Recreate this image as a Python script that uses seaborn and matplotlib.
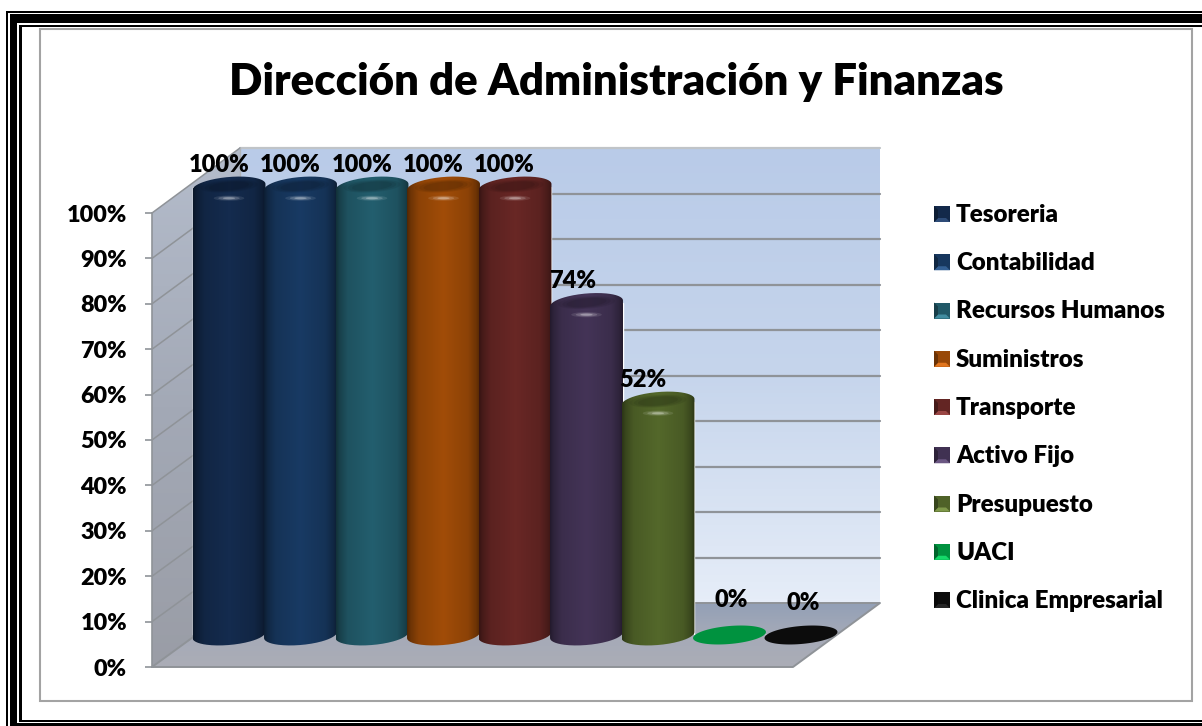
#!/usr/bin/env python3
"""Cylinder chart: Direccion de Administracion y Finanzas."""
import numpy as np
import pandas as pd
import matplotlib
matplotlib.use("Agg")
import matplotlib.pyplot as plt
from matplotlib.colors import to_rgb
from matplotlib.patches import Polygon, Rectangle
from matplotlib.path import Path
import seaborn as sns

sns.set_theme(style="white")
plt.rcParams["font.family"] = ["Lato", "DejaVu Sans"]
plt.rcParams["font.weight"] = "bold"

TITLE = "Dirección de Administración y Finanzas"
AREAS = ["Tesoreria", "Contabilidad", "Recursos Humanos", "Suministros", "Transporte",
         "Activo Fijo", "Presupuesto", "UACI", "Clinica Empresarial"]
VALUES = [100, 100, 100, 100, 100, 74, 52, 0, 0]
COLORS = ["#13294a", "#17375e", "#215968", "#984807", "#632523",
          "#403152", "#4f6228", "#00923f", "#0c0c0c"]
Y_TICKS = list(range(0, 101, 10))

W, H = 1202, 726
GRAY = "#8f9398"
WEIGHT = 800


def axes_px(fig, left, top, right, bottom, **kw):
    return fig.add_axes([left / W, 1 - bottom / H, (right - left) / W, (bottom - top) / H], **kw)


def gradient(ax, xy, stops, horizontal=False):
    """Fill a polygon given in pixels with a linear gradient."""
    xs, ys = zip(*xy)
    rgb = np.array([to_rgb(c) for c in stops])
    t = np.linspace(0, 1, 128)
    img = np.stack([np.interp(t, np.linspace(0, 1, len(stops)), rgb[:, i]) for i in range(3)], axis=-1)
    img = img[None, :, :] if horizontal else img[:, None, :]
    im = ax.imshow(img, extent=(min(xs), max(xs), max(ys), min(ys)), aspect="auto", zorder=1, origin="upper")
    im.set_clip_path(Polygon(xy, closed=True, transform=ax.transData))


def ellipse(cx, cy, a, b, shear=0.0, start=0.0, stop=2 * np.pi):
    t = np.linspace(start, stop, 80)
    return np.column_stack([cx + a * np.cos(t), cy + b * np.sin(t) + shear * np.cos(t)])


def draw_frame(bg):
    layers = [("black", 6, 11, 760), ("white", 7.5, 12.7, 760), ("black", 10, 14, 760),
              ("white", 17, 22.7, 723.3), ("black", 19, 24.7, 721.7), ("white", 21.7, 26.7, 720)]
    for color, x, y, bottom in layers:
        bg.add_patch(Rectangle((x, y), 1300, bottom - y, fc=color, ec="none", zorder=0))
    bg.add_patch(Rectangle((39.5, 29), 1152.5, 672, fc="white", ec="#a3a3a3", lw=1.5, zorder=0.5))


def draw_walls(bg):
    gradient(bg, [(240, 148), (880, 148), (880, 603), (240, 603)], ["#b9cbe8", "#c6d5ec", "#e6edf8"])
    gradient(bg, [(152, 213), (240, 148), (240, 603), (152, 667)], ["#b4bccb", "#a3a9b6", "#9a9da6"])
    gradient(bg, [(152, 667), (240, 603), (880, 603), (793, 667)], ["#93a0b6", "#a5aab8", "#abadb6"])
    for k in range(1, 11):
        y = 603 - k * 45.5
        bg.plot([240, 880], [y, y], color="#c0c4c8" if k == 10 else GRAY, lw=1.6, zorder=2)
    for k in range(1, 11):
        bg.plot([152, 240], [667 - k * 45.4, 603 - k * 45.5], color=GRAY, lw=1.1, zorder=2)
    bg.plot([152, 240, 880, 793, 152], [667, 603, 603, 667, 667], color=GRAY, lw=1.4, zorder=2)
    bg.plot([240, 240], [603, 148], color="#b0b4b8", lw=1, zorder=2)


def draw_cylinders(ax):
    px_y = 448 / 100  # vertical pixels per percent
    for i, (patch, color) in enumerate(zip(ax.patches, COLORS)):
        z = 3 + i
        cx = patch.get_x() + patch.get_width() / 2
        a = patch.get_width() / 2
        top = patch.get_height()
        base = np.array(to_rgb(color))
        if top == 0:
            ax.fill(*ellipse(cx, 0, a, 9 / px_y, 3 / px_y).T, color=color, zorder=z, clip_on=False, lw=0)
            continue
        b, s = 10 / px_y, 3 / px_y
        outline = np.vstack([ellipse(cx, top, a, b, s, np.pi, 0), ellipse(cx, 0, a, b, s, 0, -np.pi)])
        t = np.linspace(0, 1, 200)
        shade = np.interp(t, [0, 0.05, 0.16, 0.5, 0.84, 0.95, 1], [0.55, 0.72, 0.92, 1.06, 0.92, 0.72, 0.55])
        img = np.clip(base[None, None, :] * shade[None, :, None], 0, 1)
        im = ax.imshow(img, extent=(cx - a, cx + a, -b - s, top + b + s), aspect="auto", zorder=z)
        im.set_clip_box(ax.figure.bbox)
        im.set_clip_path(Path(outline), transform=ax.transData)
        # rounded cap: dark centre on the lit rim, soft highlight below it
        for scale, alpha in [(1.0, 0.22), (0.85, 0.28), (0.7, 0.34)]:
            ax.fill(*ellipse(cx, top + 0.2, a * 0.78 * scale, b * 0.62 * scale, s * 0.6).T, color=base * 0.62,
                    zorder=z + 0.2, lw=0, clip_on=False, alpha=alpha)
        for scale, alpha in [(1.0, 0.1), (0.7, 0.18), (0.4, 0.3)]:
            ax.fill(*ellipse(cx, top - 2.5, a * 0.42 * scale, b * 0.26 * scale, 0).T, color="white",
                    zorder=z + 0.3, lw=0, clip_on=False, alpha=alpha)


def draw_labels(ax):
    shifts = [(-10, 0), (-10, 0), (-10, 0), (-10, 0), (-11, 0), (-14, 0), (-15, 0), (2, 0), (2, -3)]
    for i, (value, (dx, dy)) in enumerate(zip(VALUES, shifts)):
        lift = 22 if value > 0 else 35
        ax.annotate(f"{value}%", (i, value), xytext=(dx, lift + dy), textcoords="offset pixels",
                    ha="center", va="center", fontsize=17, fontweight=WEIGHT, color="black",
                    annotation_clip=False, zorder=30)


def draw_legend(bg):
    for i, (name, color) in enumerate(zip(AREAS, COLORS)):
        y = 214 + i * 48.25
        base = np.array(to_rgb(color))
        bg.add_patch(Rectangle((934, y - 8), 16, 16, fc=base, ec="none", zorder=5))
        light = np.clip(base * 1.35 + 0.08, 0, 1)
        bg.add_patch(Polygon([(934, y + 8), (950, y + 8), (946, y + 4), (938, y + 4)], fc=light, ec="none", zorder=6))
        bg.add_patch(Polygon([(934, y - 8), (938, y - 4), (938, y + 4), (934, y + 8)], fc=base * 0.7, ec="none", zorder=6))
        bg.text(956, y + 8, name, ha="left", va="baseline", fontsize=17.4, fontweight=WEIGHT, color="black", zorder=7)


def main():
    df = pd.DataFrame({"area": AREAS, "value": VALUES})
    fig = plt.figure(figsize=(W / 100, H / 100), dpi=100, facecolor="white")

    # pixel canvas for frame, walls, title and legend
    bg = fig.add_axes([0, 0, 1, 1], zorder=0)
    draw_frame(bg)
    draw_walls(bg)
    draw_legend(bg)
    bg.text(616, 95, TITLE, ha="center", va="baseline", fontsize=31.5, fontweight=WEIGHT, color="black", zorder=7)
    bg.set_xlim(0, W)
    bg.set_ylim(H, 0)
    bg.axis("off")

    # front-left percent axis
    ax_y = axes_px(fig, 152, 213, 800, 667, zorder=1, facecolor="none")
    ax_y.set_ylim(0, 100)
    ax_y.set_yticks(Y_TICKS)
    ax_y.set_yticklabels([f"{t}%" for t in Y_TICKS], fontsize=16.8, fontweight=WEIGHT, color="black")
    ax_y.set_xticks([])
    ax_y.tick_params(axis="y", left=True, length=5, width=1.2, color=GRAY, pad=13)
    sns.despine(ax=ax_y, top=True, right=True, bottom=True)
    ax_y.spines["left"].set_color(GRAY)
    ax_y.spines["left"].set_linewidth(1.2)

    # cylinders: category 0 centred on x=229, 71.5 px per category
    ax = axes_px(fig, 157.5, 187, 872.5, 635, zorder=2, facecolor="none")
    sns.barplot(data=df, x="area", y="value", hue="area", palette=COLORS, width=1.02,
                dodge=False, legend=False, ax=ax)
    draw_cylinders(ax)
    draw_labels(ax)
    ax.set_xlim(-1, 9)
    ax.set_ylim(0, 100)
    ax.axis("off")

    fig.savefig("out.png", dpi=100)


if __name__ == "__main__":
    main()
